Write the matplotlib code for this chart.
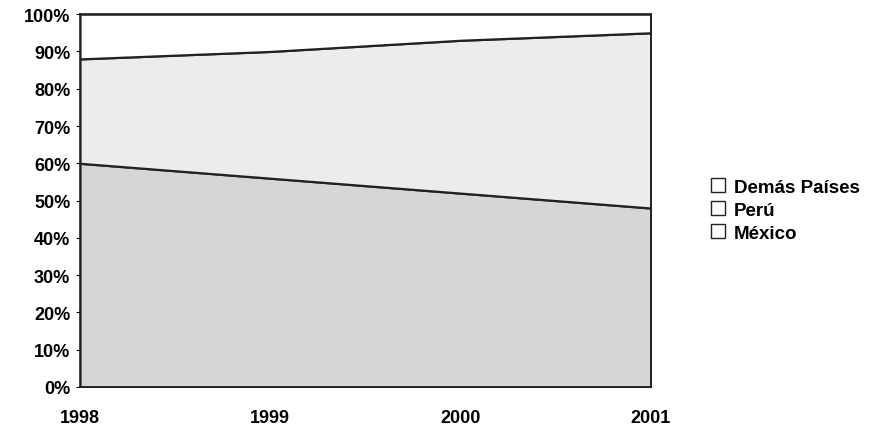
import matplotlib
matplotlib.use("Agg")
import matplotlib.pyplot as plt
from matplotlib.patches import Patch

# data (share of total, %)
years = [1998, 1999, 2000, 2001]
mexico = [60, 56, 52, 48]
peru = [28, 34, 41, 47]
demas = [12, 10, 7, 5]

series = ["México", "Perú", "Demás Países"]
colors = ["#d6d6d6", "#ececec", "#ffffff"]

plt.rcParams['font.family'] = ['Liberation Sans', 'DejaVu Sans']

fig = plt.figure(figsize=(8.85, 4.31), dpi=100)
ax = fig.add_axes([0.0904, 0.0998, 0.645, 0.865])

ax.stackplot(years, mexico, peru, demas, colors=colors,
             edgecolor="#222222", linewidth=1.6)

ax.set_xlim(years[0], years[-1])
ax.set_ylim(0, 100)
ax.set_yticks(range(0, 101, 10))
ax.set_yticklabels(["%d%%" % v for v in range(0, 101, 10)],
                   fontsize=13, fontweight="bold")
ax.set_xticks(years)
ax.set_xticklabels([str(y) for y in years], fontsize=13, fontweight="bold")
ax.tick_params(axis="y", length=3, width=0.8, pad=4)
ax.tick_params(axis="x", length=0, pad=16)
for s in ax.spines.values():
    s.set_linewidth(1.2)
    s.set_color("#222222")

# legend, top entry first
handles = [Patch(facecolor="white", edgecolor="#222222", linewidth=1.0, label=n)
           for n in series[::-1]]
leg = ax.legend(handles=handles, loc="center left", bbox_to_anchor=(1.075, 0.475),
                frameon=False, handlelength=0.75, handleheight=0.75,
                handletextpad=0.5, labelspacing=0.3,
                prop={"size": 13.5, "weight": "bold"})

fig.savefig("out.png", dpi=100)
